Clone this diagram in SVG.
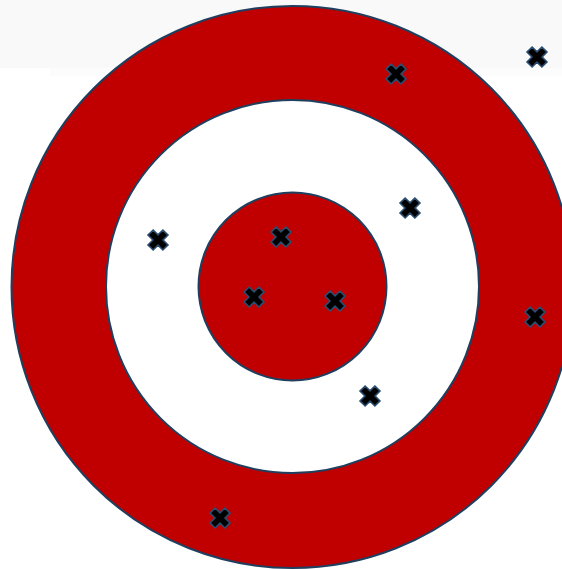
<svg xmlns="http://www.w3.org/2000/svg" width="562" height="569" viewBox="0 0 562 569">
<style>
.ring{stroke:#1f3f5f;stroke-width:2}
.red{fill:#c00000}
.white{fill:#ffffff}
.x{fill:#000000;stroke:#2a4d70;stroke-width:1.6;stroke-linejoin:miter}
</style>
<defs>
<path id="cross" d="M-3.6,-10.5 H3.6 V-3.6 H10.5 V3.6 H3.6 V10.5 H-3.6 V3.6 H-10.5 V-3.6 H-3.6 Z" transform="rotate(45)"/>
</defs>
<rect width="562" height="569" fill="#ffffff"/>
<rect x="0" y="0" width="562" height="68" fill="#f9f9f9"/>
<rect x="50" y="68" width="512" height="8" fill="#fcfcfc"/>
<g id="target">
<circle class="ring red" cx="292.5" cy="287" r="281"/>
<circle class="ring white" cx="292.5" cy="286.5" r="186.5"/>
<circle class="ring red" cx="292.5" cy="286.5" r="94"/>
</g>
<g id="hits">
<use href="#cross" class="x" x="396" y="74"/>
<use href="#cross" class="x" x="537" y="57"/>
<use href="#cross" class="x" x="410" y="208"/>
<use href="#cross" class="x" x="158" y="240"/>
<use href="#cross" class="x" x="281" y="237"/>
<use href="#cross" class="x" x="254" y="297"/>
<use href="#cross" class="x" x="335" y="301"/>
<use href="#cross" class="x" x="535" y="317"/>
<use href="#cross" class="x" x="370" y="396"/>
<use href="#cross" class="x" x="220" y="518"/>
</g>
</svg>
